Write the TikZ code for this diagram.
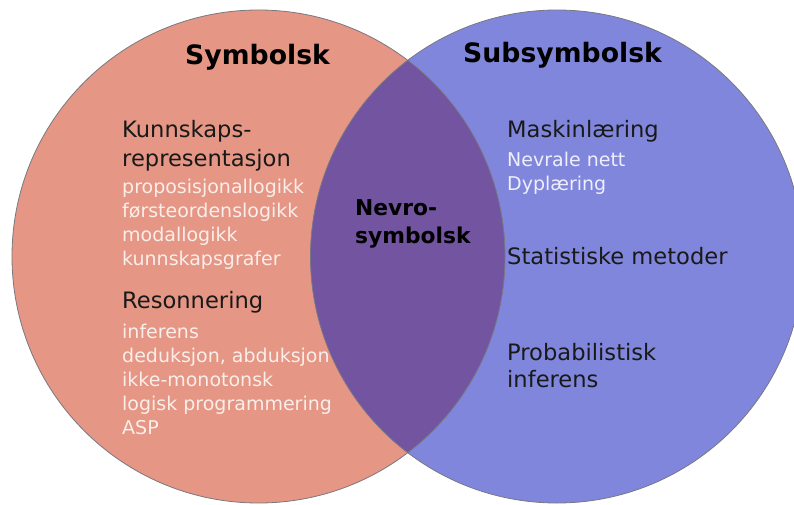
\documentclass[tikz,border=0pt]{standalone}
\usepackage{fontspec}
\setmainfont{DejaVu Sans}
\usepackage{xcolor}
\usepackage{tikz}
\definecolor{symfill}{RGB}{229,150,132}
\definecolor{subfill}{RGB}{128,134,220}
\definecolor{nevfill}{RGB}{115,84,160}
\definecolor{edgegray}{RGB}{120,120,130}
\definecolor{symtext}{RGB}{250,238,234}
\definecolor{subtext}{RGB}{238,238,252}

\begin{document}
\begin{tikzpicture}[x=1pt, y=-1pt,
  title/.style={anchor=base west, inner sep=0pt, font=\fontsize{26.7}{30}\selectfont\bfseries},
  head/.style={anchor=base west, inner sep=0pt, align=left, text=black!90, font=\fontsize{22.6}{29}\selectfont},
  items/.style={anchor=base west, inner sep=0pt, align=left, font=\fontsize{19}{24}\selectfont}]
  \useasboundingbox (0,0) rectangle (794,505);
  % the two sets and their overlap
  \fill[symfill] (258.5,256.5) circle[radius=246.5];
  \fill[subfill] (557,256.5) circle[radius=246.5];
  \begin{scope}
    \clip (258.5,256.5) circle[radius=246.5];
    \fill[nevfill] (557,256.5) circle[radius=246.5];
  \end{scope}
  \draw[edgegray, line width=0.8pt] (258.5,256.5) circle[radius=246.5];
  \draw[edgegray, line width=0.8pt] (557,256.5) circle[radius=246.5];
  % titles (multi-line nodes sit on the baseline of their last line)
  \node[title] (sym) at (185,65) {Symbolsk};
  \node[title] (sub) at (463,63) {Subsymbolsk};
  \node[title, align=left, font=\fontsize{21.8}{28}\selectfont\bfseries] (nevro) at (355,243) {Nevro-\\symbolsk};
  % symbolsk side
  \node[head] (kunn) at (122,167) {Kunnskaps-\\representasjon};
  \node[items, text=symtext] (kunnlist) at (122,265) {proposisjonallogikk\\førsteordenslogikk\\modallogikk\\kunnskapsgrafer};
  \node[head] (reson) at (122,308) {Resonnering};
  \node[items, text=symtext] (resonlist) at (122,434) {inferens\\deduksjon, abduksjon\\ikke-monotonsk\\logisk programmering\\ASP};
  % subsymbolsk side
  \node[head] (maskin) at (507,138) {Maskinlæring};
  \node[items, text=subtext, font=\fontsize{19}{23.5}\selectfont] (maskinlist) at (507,190) {Nevrale nett\\Dyplæring};
  \node[head] (stat) at (507,264) {Statistiske metoder};
  \node[head, font=\fontsize{22.6}{27}\selectfont] (prob) at (507,387) {Probabilistisk\\inferens};
\end{tikzpicture}
\end{document}
